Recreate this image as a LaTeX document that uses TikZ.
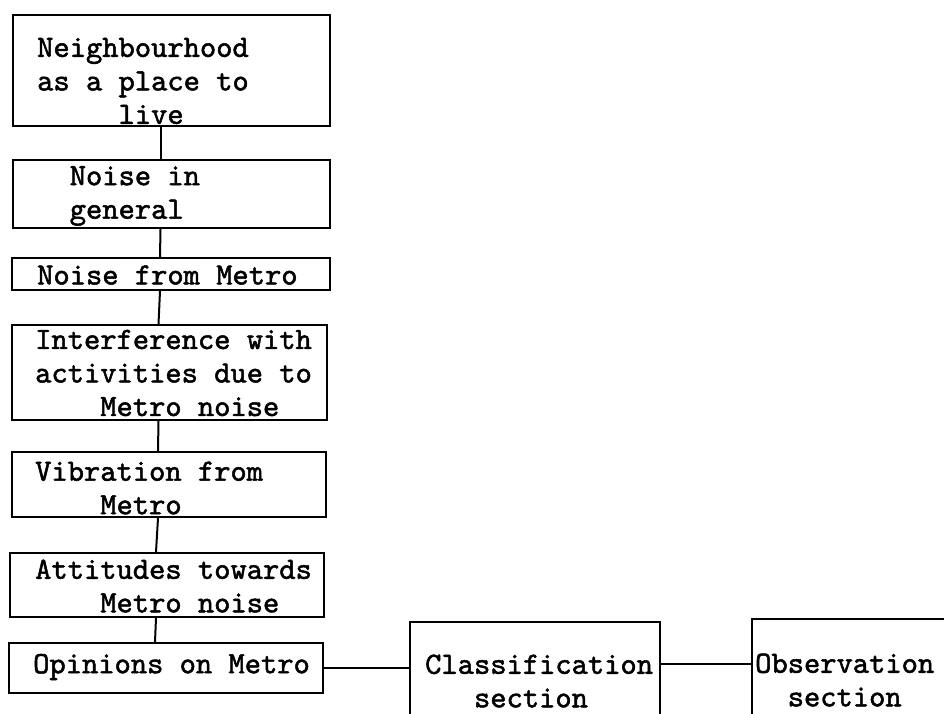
\documentclass[tikz,border=0pt]{standalone}
\usepackage{fontspec}
\usepackage{tikz}
\newfontfamily\typew{lmmono10-regular.otf}[FakeBold=1.6]

\begin{document}
\begin{tikzpicture}[x=1pt,y=-1pt,
		box/.style={draw, line width=2pt, inner sep=0pt},
		txt/.style={anchor=west, align=left, inner sep=0pt, font=\typew\fontsize{31}{33.5}\selectfont}]
		\useasboundingbox (0,0) rectangle (944,713);
		% Draw boxes
		\node[box, minimum width=317, minimum height=111] (b1) at (171.5,70.5) {};
		\node[box, minimum width=317, minimum height=68] (b2) at (171.5,194) {};
		\node[box, minimum width=318, minimum height=32] (b3) at (171,274) {};
		\node[box, minimum width=315, minimum height=95] (b4) at (169.5,372.5) {};
		\node[box, minimum width=314, minimum height=65] (b5) at (169,484.5) {};
		\node[box, minimum width=314, minimum height=64] (b6) at (167,585) {};
		\node[box, minimum width=314, minimum height=50] (b7) at (166,668) {};
		\node[box, minimum width=250, minimum height=140] (b8) at (535,692) {};
		\node[box, minimum width=240, minimum height=142] (b9) at (872,690) {};
		% Box texts
		\node[txt] (t1) at (37,81) {Neighbourhood\\as a place to\\\hphantom{xxxxx}live};
		\node[txt] (t2) at (37,196) {\hphantom{xx}Noise in\\\hphantom{xx}general};
		\node[txt] (t3) at (37,275) {Noise from Metro};
		\node[txt] (t4) at (35,373) {Interference with\\activities due to\\\hphantom{xxxx}Metro noise};
		\node[txt] (t5) at (35,488) {Vibration from\\\hphantom{xxxx}Metro};
		\node[txt] (t6) at (35,586) {Attitudes towards\\\hphantom{xxxx}Metro noise};
		\node[txt] (t7) at (33,667) {Opinions on Metro};
		\node[txt] (t8) at (425,681) {Classification\\\hphantom{xxx}section};
		\node[txt] (t9) at (755,680) {Observation\\\hphantom{xx}section};
		% Connecting lines
		\foreach \a/\b in {b1/b2,b2/b3,b3/b4,b4/b5,b5/b6,b6/b7}
			\draw[line width=2pt] ([xshift=-11pt]\a.south) -- ([xshift=-11pt]\b.north);
		\draw[line width=2pt] (b7.east) -- (b7.east -| b8.west);
		\draw[line width=2pt] ([yshift=28pt]b8.east) -- ([yshift=28pt]b8.east -| b9.west);
	\end{tikzpicture}
\end{document}
